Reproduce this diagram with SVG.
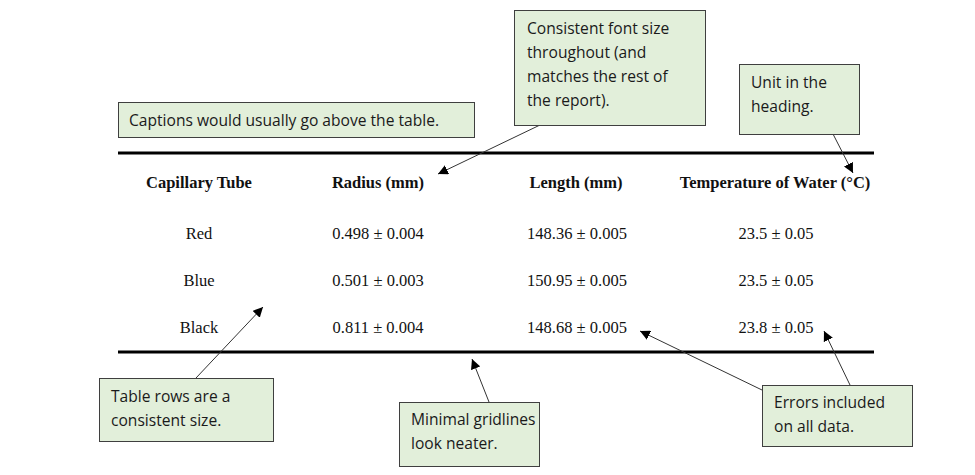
<svg xmlns="http://www.w3.org/2000/svg" width="975" height="475" viewBox="0 0 975 475">
<style>
.box rect{fill:#e2efda;stroke:#3f3f3f;stroke-width:1}
.box text{font-family:"Open Sans","Noto Sans",sans-serif;font-size:15.6px;fill:#1a1a1a}
.th{font-family:"Liberation Serif",serif;font-size:16.5px;font-weight:bold;fill:#111;text-anchor:middle}
.td{font-family:"Liberation Serif",serif;font-size:16.5px;fill:#111;text-anchor:middle}
.rule{stroke:#000;stroke-width:3}
.conn line{stroke:#333;stroke-width:1;marker-end:url(#ah)}
</style>
<defs>
<marker id="ah" viewBox="0 0 10 10" refX="10" refY="5" markerWidth="10" markerHeight="10" markerUnits="userSpaceOnUse" orient="auto">
<path d="M0,0 L10,5 L0,10 z" fill="#000"/>
</marker>
</defs>
<rect width="975" height="475" fill="#fff"/>
<g id="table">
<line class="rule" x1="118" y1="153" x2="874" y2="153"/>
<line class="rule" x1="118" y1="352" x2="874" y2="352"/>
<text class="th" x="199" y="188">Capillary Tube</text>
<text class="th" x="378" y="188">Radius (mm)</text>
<text class="th" x="576" y="188">Length (mm)</text>
<text class="th" x="775" y="188">Temperature of Water (°C)</text>
<text class="td" x="199" y="239">Red</text>
<text class="td" x="378" y="239">0.498 ± 0.004</text>
<text class="td" x="577" y="239">148.36 ± 0.005</text>
<text class="td" x="776" y="239">23.5 ± 0.05</text>
<text class="td" x="199" y="286">Blue</text>
<text class="td" x="378" y="286">0.501 ± 0.003</text>
<text class="td" x="577" y="286">150.95 ± 0.005</text>
<text class="td" x="776" y="286">23.5 ± 0.05</text>
<text class="td" x="199" y="333">Black</text>
<text class="td" x="378" y="333">0.811 ± 0.004</text>
<text class="td" x="577" y="333">148.68 ± 0.005</text>
<text class="td" x="776" y="333">23.8 ± 0.05</text>
</g>
<g class="conn" id="connectors">
<line x1="540" y1="125" x2="438" y2="174"/>
<line x1="833" y1="134" x2="853" y2="173"/>
<line x1="196" y1="378" x2="263" y2="307"/>
<line x1="489" y1="402" x2="472" y2="359"/>
<line x1="762" y1="390" x2="640" y2="331"/>
<line x1="850" y1="385" x2="824" y2="331"/>
</g>
<g id="caption" class="box">
<rect x="118.5" y="102.5" width="356" height="35"/>
<text x="129" y="126">Captions would usually go above the table.</text>
</g>
<g id="fontsize" class="box">
<rect x="514.5" y="10.5" width="191" height="115"/>
<text x="527" y="34">Consistent font size</text>
<text x="527" y="58">throughout (and</text>
<text x="527" y="82">matches the rest of</text>
<text x="527" y="106">the report).</text>
</g>
<g id="unit" class="box">
<rect x="739.5" y="64.5" width="120" height="70"/>
<text x="751" y="88">Unit in the</text>
<text x="751" y="112">heading.</text>
</g>
<g id="rows" class="box">
<rect x="99.5" y="378.5" width="174" height="63"/>
<text x="111" y="402">Table rows are a</text>
<text x="111" y="426">consistent size.</text>
</g>
<g id="gridlines" class="box">
<rect x="399.5" y="402.5" width="140" height="64"/>
<text x="411" y="425">Minimal gridlines</text>
<text x="411" y="449">look neater.</text>
</g>
<g id="errors" class="box">
<rect x="762.5" y="385.5" width="150" height="61"/>
<text x="774" y="408">Errors included</text>
<text x="774" y="432">on all data.</text>
</g>
</svg>
